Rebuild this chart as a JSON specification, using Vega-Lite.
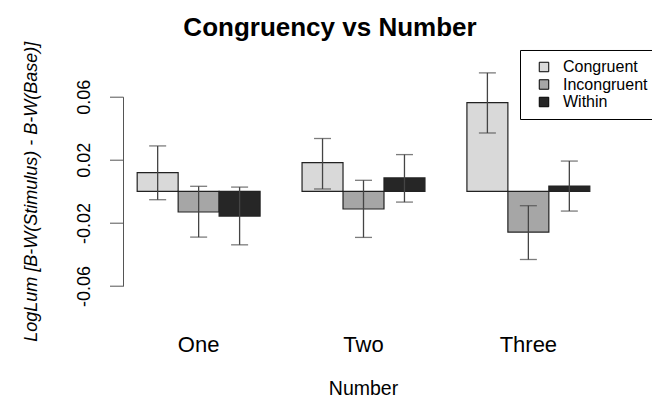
{
  "$schema": "https://vega.github.io/schema/vega-lite/v6.json",
  "autosize": "none",
  "width": 500,
  "height": 189.3,
  "padding": {"left": 123, "top": 96.7, "right": 29, "bottom": 111},
  "background": "white",
  "config": {
    "view": {"stroke": null},
    "font": "Liberation Sans"
  },
  "title": {
    "text": "Congruency vs Number",
    "font": "Liberation Sans",
    "fontSize": 26,
    "fontWeight": "bold",
    "color": "black",
    "anchor": "middle",
    "dx": -43,
    "dy": 34,
    "baseline": "alphabetic",
    "offset": 13
  },
  "data": {
    "values": [
      {"Number": "One", "Condition": "Congruent", "mean": 0.0119, "lower": -0.0053, "upper": 0.0288},
      {"Number": "One", "Condition": "Incongruent", "mean": -0.0131, "lower": -0.029, "upper": 0.0032},
      {"Number": "One", "Condition": "Within", "mean": -0.0157, "lower": -0.0339, "upper": 0.0027},
      {"Number": "Two", "Condition": "Congruent", "mean": 0.0182, "lower": 0.0015, "upper": 0.0335},
      {"Number": "Two", "Condition": "Incongruent", "mean": -0.0112, "lower": -0.0292, "upper": 0.007},
      {"Number": "Two", "Condition": "Within", "mean": 0.0085, "lower": -0.0068, "upper": 0.0233},
      {"Number": "Three", "Condition": "Congruent", "mean": 0.0563, "lower": 0.037, "upper": 0.0751},
      {"Number": "Three", "Condition": "Incongruent", "mean": -0.0258, "lower": -0.0432, "upper": -0.0091},
      {"Number": "Three", "Condition": "Within", "mean": 0.0034, "lower": -0.0125, "upper": 0.0192}
    ]
  },
  "encoding": {
    "x": {
      "field": "Number",
      "type": "nominal",
      "title": "Number",
      "sort": ["One", "Two", "Three"],
      "scale": {"type": "band", "range": [0, 481], "paddingInner": 0.2545, "paddingOuter": 0.086},
      "axis": {
        "domain": false,
        "ticks": false,
        "tickSize": 0,
        "labelAngle": 0,
        "labelFont": "Liberation Sans",
        "labelFontSize": 22,
        "labelColor": "black",
        "labelBaseline": "alphabetic",
        "labelPadding": 65.5,
        "titleFont": "Liberation Sans",
        "titleFontSize": 19.5,
        "titleFontWeight": "normal",
        "titleColor": "black",
        "titleBaseline": "alphabetic",
        "titleX": 240,
        "titleY": 108,
        "titleAnchor": "middle"
      }
    },
    "xOffset": {
      "field": "Condition",
      "type": "nominal",
      "sort": ["Congruent", "Incongruent", "Within"],
      "scale": {"paddingInner": 0, "paddingOuter": 0}
    }
  },
  "layer": [
    {
      "mark": {"type": "rule", "color": "#444444", "strokeWidth": 1},
      "encoding": {"y": {"datum": 0, "type": "quantitative"}}
    },
    {
      "mark": {"type": "bar", "stroke": "#222222", "strokeWidth": 1.2},
      "encoding": {
        "y": {
          "field": "mean",
          "type": "quantitative",
          "title": "LogLum [B-W(Stimulus) - B-W(Base)]",
          "scale": {"domain": [-0.06, 0.06], "nice": false, "zero": false},
          "axis": {
            "values": [-0.06, -0.04, -0.02, 0, 0.02, 0.04, 0.06],
            "labelExpr": "abs(round(datum.value*100)) % 4 == 2 ? (datum.value < 0 ? '-' : '') + format(abs(datum.value), '.2f') : ''",
            "grid": false,
            "domainColor": "#555555",
            "tickColor": "#555555",
            "tickSize": 13.5,
            "labelAngle": -90,
            "labelAlign": "center",
            "labelBaseline": "middle",
            "labelPadding": 25.5,
            "labelFont": "Liberation Sans",
            "labelFontSize": 18,
            "labelColor": "black",
            "labelOverlap": false,
            "titleFont": "Liberation Sans",
            "titleFontSize": 18,
            "titleFontStyle": "italic",
            "titleFontWeight": "normal",
            "titleColor": "black",
            "titleAngle": -90,
            "titleAlign": "center",
            "titleBaseline": "middle",
            "titleX": -92,
            "titleY": 94.6
          }
        },
        "y2": {"datum": 0},
        "fill": {
          "field": "Condition",
          "type": "nominal",
          "scale": {"domain": ["Congruent", "Incongruent", "Within"], "range": ["#d9d9d9", "#a6a6a6", "#262626"]},
          "legend": {
            "orient": "none",
            "legendX": 397,
            "legendY": -46.7,
            "title": null,
            "strokeColor": "black",
            "fillColor": "white",
            "padding": 9,
            "symbolType": "square",
            "symbolSize": 90,
            "symbolStrokeColor": "black",
            "symbolStrokeWidth": 1,
            "symbolOffset": 7,
            "labelOffset": 11,
            "labelFont": "Liberation Sans",
            "labelFontSize": 16,
            "labelColor": "black",
            "rowPadding": 1.5
          }
        }
      }
    },
    {
      "mark": {"type": "rule", "color": "#444444", "strokeWidth": 1.3},
      "encoding": {
        "y": {"field": "lower", "type": "quantitative", "title": "LogLum [B-W(Stimulus) - B-W(Base)]"},
        "y2": {"field": "upper"}
      }
    },
    {
      "mark": {"type": "tick", "color": "#444444", "thickness": 1.3, "size": 17, "orient": "horizontal"},
      "encoding": {
        "y": {"field": "lower", "type": "quantitative", "title": "LogLum [B-W(Stimulus) - B-W(Base)]"}
      }
    },
    {
      "mark": {"type": "tick", "color": "#444444", "thickness": 1.3, "size": 17, "orient": "horizontal"},
      "encoding": {
        "y": {"field": "upper", "type": "quantitative", "title": "LogLum [B-W(Stimulus) - B-W(Base)]"}
      }
    }
  ]
}
